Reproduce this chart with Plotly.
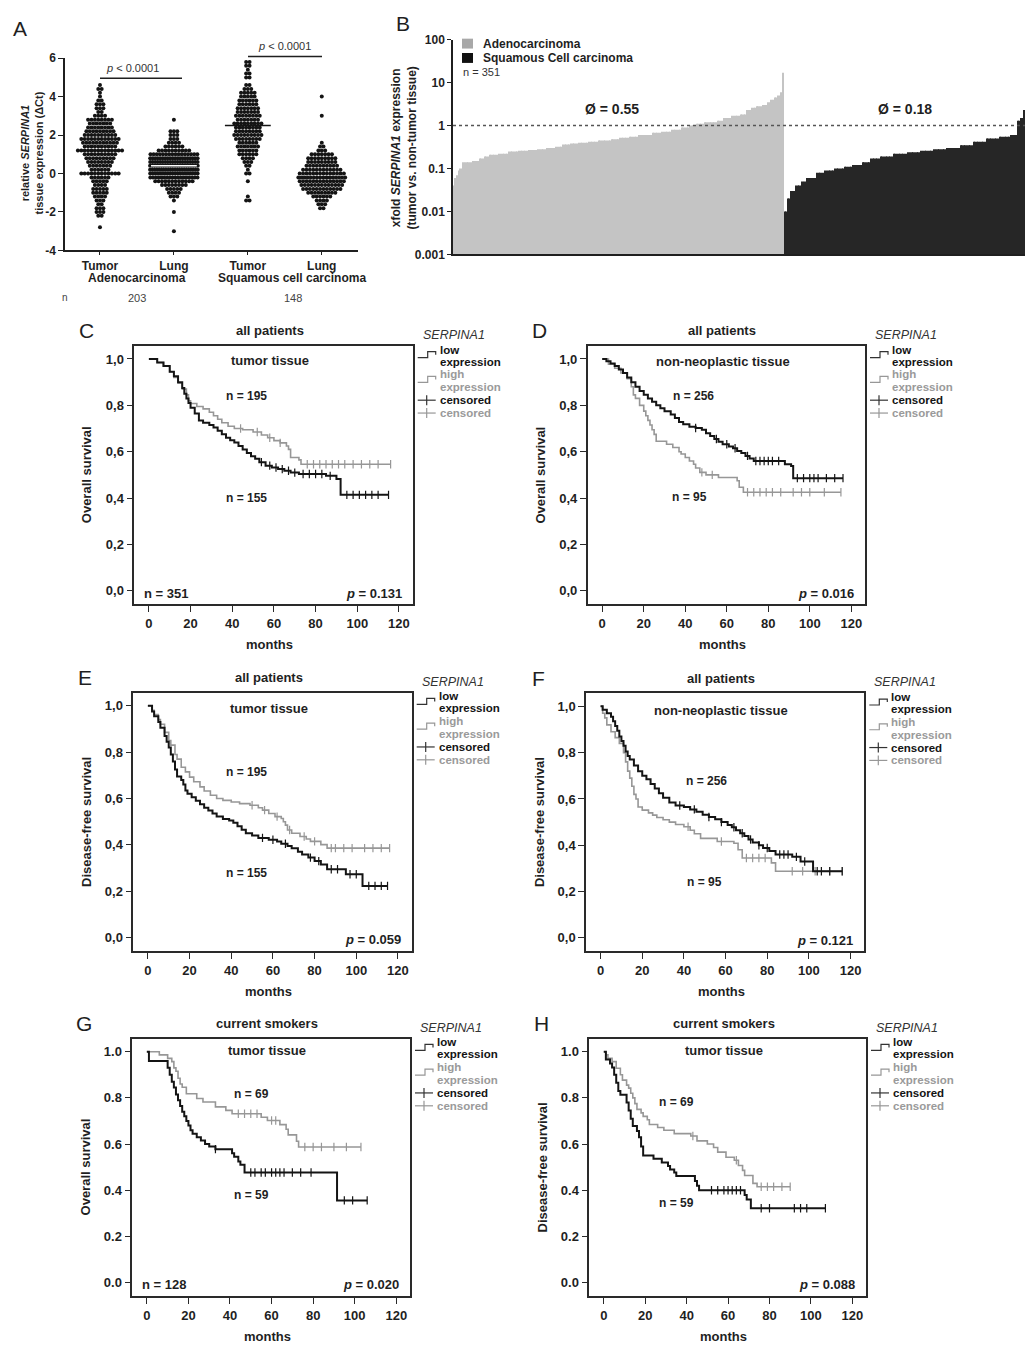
import numpy as np
import plotly.graph_objects as go

W, H = 1030, 1352
FONT = "Liberation Sans"
INK = "#1f1f1f"
BLACK = "#141414"
GRAY = "#979797"
GRAY_TXT = "#9a9a9a"

# ---------------- Panel A : relative SERPINA1 expression (dCt) ----------------
A_CATEGORIES = ["Tumor", "Lung", "Tumor", "Lung"]
A_GROUPS = ["Adenocarcinoma", "Squamous cell carcinoma"]
A_GROUP_N = ["203", "148"]
A_P_TEXT = ["<i>p</i> < 0.0001", "<i>p</i> < 0.0001"]

AD_TUMOR_LEVELS = [-2.8, -2.2, -2.0, -1.8, -1.6, -1.4, -1.2, -1.0, -0.8, -0.6, -0.4, -0.2, 0.0, 0.2, 0.4,
                   0.6, 0.8, 1.0, 1.2, 1.4, 1.6, 1.8, 2.0, 2.2, 2.4, 2.6, 2.8, 3.0, 3.2, 3.4, 3.6, 3.8,
                   4.0, 4.2, 4.4, 4.6]
AD_TUMOR_COUNTS = [1, 2, 3, 3, 2, 3, 4, 5, 5, 4, 5, 6, 12, 6, 7, 8, 9, 10, 14, 10, 11, 12, 10, 9, 8, 7,
                   8, 4, 2, 3, 3, 2, 1, 1, 2, 1]
AD_LUNG_LEVELS = [-3.0, -2.0, -1.4, -1.2, -1.0, -0.8, -0.6, -0.4, -0.2, 0.0, 0.2, 0.4, 0.6, 0.8, 1.0,
                  1.2, 1.4, 1.6, 1.8, 2.0, 2.2, 2.8]
AD_LUNG_COUNTS = [1, 1, 1, 3, 4, 5, 8, 12, 18, 20, 22, 22, 20, 20, 16, 10, 6, 4, 3, 3, 3, 1]
SQ_TUMOR_LEVELS = [-1.4, -1.2, -0.4, 0.0, 0.2, 0.4, 0.6, 0.8, 1.0, 1.2, 1.4, 1.6, 1.8, 2.0, 2.2, 2.4,
                   2.6, 2.8, 3.0, 3.2, 3.4, 3.6, 3.8, 4.0, 4.2, 4.4, 4.6, 5.0, 5.2, 5.4, 5.6, 5.8]
SQ_TUMOR_COUNTS = [2, 1, 1, 2, 1, 2, 3, 4, 6, 6, 7, 6, 8, 9, 8, 8, 9, 7, 8, 7, 7, 6, 6, 5, 5, 3, 2, 2,
                   2, 1, 2, 2]
SQ_LUNG_LEVELS = [-1.8, -1.6, -1.4, -1.2, -1.0, -0.8, -0.6, -0.4, -0.2, 0.0, 0.2, 0.4, 0.6, 0.8, 1.0,
                  1.2, 1.4, 1.6, 3.0, 4.0]
SQ_LUNG_COUNTS = [2, 3, 4, 6, 9, 12, 13, 14, 16, 14, 12, 10, 9, 9, 7, 3, 2, 1, 1, 1]
A_YTICKS = [-4, -2, 0, 2, 4, 6]
A_YTICK_LABELS = ["-4", "-2", "0", "2", "4", "6"]

# ---------------- Panel B : xfold expression (tumor vs non-tumor) ----------------
ADENO_FOLD_VALUES = [0.04, 0.06, 0.07, 0.09, 0.1, 0.14, 0.15, 0.17, 0.19, 0.21, 0.22, 0.25, 0.26, 0.27,
                     0.28, 0.3, 0.32, 0.36, 0.38, 0.4, 0.42, 0.45, 0.48, 0.52, 0.55, 0.6, 0.68, 0.72,
                     0.8, 0.9, 1.0, 1.1, 1.2, 1.3, 1.5, 1.7, 1.8, 2.3, 2.6, 2.8, 3.0, 3.5, 4.0, 4.5,
                     5.0, 6.0, 17.0]
ADENO_FOLD_COUNTS = [1, 1, 1, 1, 2, 6, 4, 3, 3, 6, 6, 6, 6, 6, 5, 6, 4, 5, 5, 6, 6, 8, 5, 6, 6, 8, 6, 6,
                     6, 5, 4, 5, 8, 4, 5, 5, 4, 3, 3, 4, 3, 2, 2, 2, 2, 1, 1]
SQUAM_FOLD_VALUES = [0.01, 0.02, 0.03, 0.04, 0.05, 0.06, 0.08, 0.09, 0.1, 0.11, 0.12, 0.14, 0.17, 0.19,
                     0.22, 0.24, 0.26, 0.28, 0.3, 0.35, 0.42, 0.5, 0.55, 0.6, 1.3, 1.5, 2.3]
SQUAM_FOLD_COUNTS = [2, 2, 3, 4, 3, 6, 5, 6, 6, 5, 6, 5, 6, 8, 9, 8, 8, 8, 8, 8, 8, 8, 7, 4, 2, 2, 1]
B_TICKS = [0.001, 0.01, 0.1, 1, 10, 100]
B_TICK_LABELS = ["0.001", "0.01", "0.1", "1", "10", "100"]
B_MEANS = ["\u00d8 = 0.55", "\u00d8 = 0.18"]

# ---------------- Kaplan-Meier panels C-H ----------------
C_LOW_T = [0, 4, 7, 10, 12, 14, 16, 17, 18, 19, 20, 22, 24, 26, 29, 31, 33, 35, 37, 39, 41, 43, 45, 47,
           49, 51, 53, 56, 59, 62, 65, 68, 72, 85, 90, 92]
C_LOW_S = [1.0, 0.985, 0.97, 0.945, 0.925, 0.9, 0.875, 0.85, 0.83, 0.81, 0.79, 0.765, 0.735, 0.725, 0.715,
           0.705, 0.69, 0.675, 0.66, 0.65, 0.64, 0.625, 0.61, 0.595, 0.58, 0.57, 0.555, 0.54, 0.532, 0.525,
           0.518, 0.51, 0.504, 0.496, 0.482, 0.414]
C_LOW_END = 115
C_LOW_CENS = [54, 58, 61, 64, 67, 70, 74, 77, 80, 83, 87, 95, 98, 101, 104, 107, 110, 115]
C_HIGH_T = [0, 4, 7, 10, 12, 14, 16, 18, 19, 20, 23, 26, 29, 31, 33, 35, 38, 41, 45, 50, 54, 57, 60, 63,
            66, 67, 68, 72, 73]
C_HIGH_S = [1.0, 0.985, 0.97, 0.945, 0.92, 0.895, 0.87, 0.845, 0.82, 0.808, 0.795, 0.785, 0.77, 0.755,
            0.74, 0.725, 0.71, 0.70, 0.695, 0.685, 0.672, 0.66, 0.648, 0.638, 0.625, 0.61, 0.575, 0.565,
            0.546]
C_HIGH_END = 116
C_HIGH_CENS = [44, 52, 58, 63, 76, 79, 82, 85, 88, 91, 94, 98, 102, 106, 110, 116]

D_LOW_T = [0, 2, 4, 6, 8, 10, 12, 14, 16, 18, 20, 22, 24, 26, 28, 30, 33, 35, 37, 39, 42, 45, 48, 50, 52,
           54, 56, 58, 61, 63, 65, 67, 69, 71, 73, 88, 91, 92]
D_LOW_S = [1.0, 0.99, 0.98, 0.97, 0.955, 0.94, 0.92, 0.9, 0.88, 0.862, 0.846, 0.83, 0.815, 0.8, 0.787,
           0.775, 0.76, 0.745, 0.728, 0.718, 0.708, 0.702, 0.695, 0.68, 0.668, 0.655, 0.643, 0.632, 0.622,
           0.615, 0.603, 0.594, 0.582, 0.571, 0.56, 0.546, 0.538, 0.486]
D_LOW_END = 116
D_LOW_CENS = [45, 55, 60, 64, 70, 74, 76, 78, 80, 82, 85, 94, 97, 100, 102, 104, 108, 112, 116]
D_HIGH_T = [0, 3, 6, 9, 12, 14, 15, 16, 18, 20, 21, 22, 23, 24, 25, 26, 31, 34, 37, 38, 40, 42, 44, 45,
            47, 50, 56, 65, 66, 68]
D_HIGH_S = [1.0, 0.978, 0.96, 0.94, 0.915, 0.88, 0.845, 0.83, 0.8, 0.775, 0.755, 0.735, 0.715, 0.695,
            0.675, 0.645, 0.632, 0.618, 0.6, 0.59, 0.575, 0.56, 0.546, 0.53, 0.511, 0.5, 0.489, 0.475,
            0.447, 0.425]
D_HIGH_END = 115
D_HIGH_CENS = [48, 53, 70, 73, 76, 79, 82, 86, 92, 96, 100, 107, 115]

E_LOW_T = [0, 2, 3, 5, 6, 8, 9, 10, 11, 12, 13, 14, 16, 17, 18, 19, 21, 23, 25, 27, 29, 31, 33, 36, 39,
           41, 43, 45, 47, 50, 53, 58, 62, 64, 67, 69, 72, 74, 77, 80, 83, 86, 95, 103]
E_LOW_S = [1.0, 0.975, 0.955, 0.93, 0.905, 0.87, 0.845, 0.82, 0.79, 0.76, 0.725, 0.695, 0.68, 0.66, 0.635,
           0.62, 0.605, 0.59, 0.575, 0.56, 0.548, 0.535, 0.522, 0.512, 0.505, 0.495, 0.48, 0.465, 0.45,
           0.44, 0.43, 0.422, 0.414, 0.405, 0.395, 0.385, 0.37, 0.358, 0.345, 0.33, 0.315, 0.295, 0.273,
           0.223]
E_LOW_END = 115
E_LOW_CENS = [55, 60, 66, 78, 82, 88, 91, 97, 100, 106, 109, 112, 115]
E_HIGH_T = [0, 2, 3, 5, 6, 8, 10, 11, 13, 14, 16, 18, 20, 22, 25, 27, 30, 33, 36, 40, 44, 49, 53, 55, 58,
            61, 64, 65, 66, 67, 69, 73, 76, 78, 83, 86]
E_HIGH_S = [1.0, 0.98, 0.962, 0.94, 0.92, 0.885, 0.85, 0.83, 0.79, 0.77, 0.735, 0.715, 0.692, 0.672,
            0.65, 0.632, 0.614, 0.6, 0.592, 0.585, 0.578, 0.571, 0.56, 0.55, 0.535, 0.522, 0.514, 0.5,
            0.485, 0.464, 0.45, 0.436, 0.425, 0.415, 0.401, 0.386]
E_HIGH_END = 116
E_HIGH_CENS = [50, 56, 62, 68, 75, 80, 88, 90, 94, 98, 104, 108, 112, 116]

F_LOW_T = [0, 1, 3, 5, 6, 7, 8, 9, 10, 11, 12, 13, 14, 16, 18, 20, 22, 24, 26, 28, 30, 33, 36, 40, 43,
           46, 49, 52, 55, 58, 61, 63, 65, 67, 69, 71, 73, 76, 78, 81, 84, 92, 96, 102]
F_LOW_S = [1.0, 0.985, 0.97, 0.955, 0.935, 0.915, 0.895, 0.87, 0.85, 0.83, 0.805, 0.785, 0.77, 0.745,
           0.72, 0.7, 0.685, 0.665, 0.645, 0.625, 0.605, 0.585, 0.572, 0.565, 0.555, 0.545, 0.532, 0.522,
           0.512, 0.5, 0.488, 0.478, 0.465, 0.452, 0.44, 0.425, 0.412, 0.4, 0.388, 0.375, 0.36, 0.35,
           0.33, 0.288]
F_LOW_END = 116
F_LOW_CENS = [38, 45, 52, 58, 64, 68, 72, 76, 80, 86, 88, 90, 94, 98, 104, 106, 110, 116]
F_HIGH_T = [0, 1, 2, 3, 5, 7, 9, 11, 12, 13, 14, 15, 16, 17, 18, 20, 23, 25, 27, 30, 33, 36, 40, 43, 45,
            48, 56, 64, 66, 68, 82, 84]
F_HIGH_S = [1.0, 0.97, 0.95, 0.92, 0.89, 0.865, 0.84, 0.8, 0.76, 0.72, 0.69, 0.655, 0.62, 0.6, 0.565,
            0.552, 0.54, 0.53, 0.52, 0.51, 0.5, 0.49, 0.48, 0.465, 0.45, 0.43, 0.416, 0.409, 0.381, 0.345,
            0.324, 0.288]
F_HIGH_END = 116
F_HIGH_CENS = [42, 58, 70, 73, 76, 79, 92, 97, 103, 110, 116]

G_LOW_T = [0, 1, 10, 11, 12, 13, 14, 15, 16, 17, 18, 19, 20, 21, 22, 24, 26, 28, 30, 33, 41, 42, 44, 45,
           47, 91.5]
G_LOW_S = [1.0, 0.96, 0.93, 0.9, 0.87, 0.845, 0.815, 0.79, 0.765, 0.74, 0.72, 0.7, 0.68, 0.66, 0.645,
           0.63, 0.615, 0.6, 0.59, 0.578, 0.56, 0.545, 0.525, 0.51, 0.477, 0.356]
G_LOW_END = 106
G_LOW_CENS = [33, 50, 52, 55, 57, 60, 62, 64, 66, 70, 74, 79, 95, 99, 106]
G_HIGH_T = [0, 6, 10, 12, 13, 14, 15, 16, 17, 19, 24, 27, 33, 38, 41, 55, 58, 64, 67, 68, 72, 73]
G_HIGH_S = [1.0, 0.986, 0.971, 0.957, 0.93, 0.915, 0.885, 0.86, 0.846, 0.818, 0.797, 0.782, 0.761, 0.746,
            0.731, 0.716, 0.702, 0.684, 0.664, 0.64, 0.612, 0.587]
G_HIGH_END = 103
G_HIGH_CENS = [44, 47, 50, 53, 60, 62, 76, 80, 84, 90, 96, 103]

H_LOW_T = [0, 1, 3, 4, 5, 6, 7, 8, 11, 12, 13, 14, 16, 17, 18, 19, 24, 28, 31, 32, 34, 35, 44, 45, 46, 68,
           69, 71]
H_LOW_S = [1.0, 0.966, 0.949, 0.932, 0.9, 0.865, 0.83, 0.813, 0.78, 0.745, 0.71, 0.678, 0.657, 0.63, 0.59,
           0.55, 0.536, 0.52, 0.505, 0.49, 0.477, 0.462, 0.44, 0.42, 0.4, 0.38, 0.36, 0.322]
H_LOW_END = 107
H_LOW_CENS = [52, 55, 58, 60, 62, 64, 66, 76, 80, 92, 95, 98, 107]
H_HIGH_T = [0, 1, 2, 4, 6, 8, 9, 11, 12, 13, 14, 15, 16, 18, 19, 21, 22, 26, 29, 34, 42, 45, 50, 53, 55,
            59, 63, 65, 67, 68, 72, 74]
H_HIGH_S = [1.0, 0.986, 0.971, 0.957, 0.928, 0.9, 0.877, 0.855, 0.842, 0.82, 0.8, 0.775, 0.75, 0.735, 0.72,
            0.705, 0.685, 0.672, 0.66, 0.645, 0.635, 0.614, 0.6, 0.585, 0.565, 0.543, 0.53, 0.507, 0.486,
            0.464, 0.43, 0.415]
H_HIGH_END = 90
H_HIGH_CENS = [43, 64, 76, 79, 82, 86, 90]

KM_XTICKS = [0, 20, 40, 60, 80, 100, 120]
KM_YTICKS = [0.0, 0.2, 0.4, 0.6, 0.8, 1.0]
KM_YLABELS_COMMA = ["0,0", "0,2", "0,4", "0,6", "0,8", "1,0"]
KM_YLABELS_DOT = ["0.0", "0.2", "0.4", "0.6", "0.8", "1.0"]

KM_PANELS = [
    dict(letter="C", box=(134.3, 412.7, 342.3, 603.3), title="all patients", tissue="tumor tissue",
         tissue_y=0.995, ylabel="Overall survival", labels=KM_YLABELS_COMMA,
         low=(C_LOW_T, C_LOW_S, C_LOW_END, C_LOW_CENS), high=(C_HIGH_T, C_HIGH_S, C_HIGH_END, C_HIGH_CENS),
         n_texts=[("n = 195", 47, 0.84), ("n = 155", 47, 0.40)], n_total="n = 351", p="0.131"),
    dict(letter="D", box=(587.7, 865.0, 342.3, 603.3), title="all patients", tissue="non-neoplastic tissue",
         tissue_y=0.988, ylabel="Overall survival", labels=KM_YLABELS_COMMA,
         low=(D_LOW_T, D_LOW_S, D_LOW_END, D_LOW_CENS), high=(D_HIGH_T, D_HIGH_S, D_HIGH_END, D_HIGH_CENS),
         n_texts=[("n = 256", 44, 0.84), ("n = 95", 42, 0.404)], n_total=None, p="0.016"),
    dict(letter="E", box=(133.3, 411.7, 692.7, 953.7), title="all patients", tissue="tumor tissue",
         tissue_y=0.987, ylabel="Disease-free survival", labels=KM_YLABELS_COMMA,
         low=(E_LOW_T, E_LOW_S, E_LOW_END, E_LOW_CENS), high=(E_HIGH_T, E_HIGH_S, E_HIGH_END, E_HIGH_CENS),
         n_texts=[("n = 195", 47.5, 0.713), ("n = 155", 47.5, 0.28)], n_total=None, p="0.059"),
    dict(letter="F", box=(586.0, 864.3, 693.3, 954.0), title="all patients", tissue="non-neoplastic tissue",
         tissue_y=0.984, ylabel="Disease-free survival", labels=KM_YLABELS_COMMA,
         low=(F_LOW_T, F_LOW_S, F_LOW_END, F_LOW_CENS), high=(F_HIGH_T, F_HIGH_S, F_HIGH_END, F_HIGH_CENS),
         n_texts=[("n = 256", 51, 0.679), ("n = 95", 49.7, 0.243)], n_total=None, p="0.121"),
    dict(letter="G", box=(132.3, 410.0, 1042.3, 1302.3), title="current smokers", tissue="tumor tissue",
         tissue_y=1.003, ylabel="Overall survival", labels=KM_YLABELS_DOT,
         low=(G_LOW_T, G_LOW_S, G_LOW_END, G_LOW_CENS), high=(G_HIGH_T, G_HIGH_S, G_HIGH_END, G_HIGH_CENS),
         n_texts=[("n = 69", 50.5, 0.815), ("n = 59", 50.5, 0.381)], n_total="n = 128", p="0.020"),
    dict(letter="H", box=(589.3, 866.0, 1042.3, 1302.3), title="current smokers", tissue="tumor tissue",
         tissue_y=1.005, ylabel="Disease-free survival", labels=KM_YLABELS_DOT,
         low=(H_LOW_T, H_LOW_S, H_LOW_END, H_LOW_CENS), high=(H_HIGH_T, H_HIGH_S, H_HIGH_END, H_HIGH_CENS),
         n_texts=[("n = 69", 35, 0.78), ("n = 59", 35, 0.346)], n_total=None, p="0.088"),
]
KM_XRANGE = [-7.0, 126.6]
KM_YRANGE = [-0.057, 1.057]


def PX(x):
    return x / W


def PY(y):
    return 1 - y / H


fig = go.Figure()
shapes = []
annotations = []


def pann(x, y, text, size=12, color=INK, xanchor="center", yanchor="middle", angle=0):
    annotations.append(dict(x=PX(x), y=PY(y), xref="paper", yref="paper", text=text, showarrow=False,
                            xanchor=xanchor, yanchor=yanchor, textangle=angle,
                            font=dict(family=FONT, size=size, color=color)))


def dann(x, y, xref, yref, text, size=12, color=INK, xanchor="center", yanchor="middle"):
    annotations.append(dict(x=x, y=y, xref=xref, yref=yref, text=text, showarrow=False,
                            xanchor=xanchor, yanchor=yanchor, font=dict(family=FONT, size=size, color=color)))


def pline(x0, y0, x1, y1, color=INK, width=1.5, dash="solid"):
    shapes.append(dict(type="line", xref="paper", yref="paper", x0=PX(x0), y0=PY(y0), x1=PX(x1), y1=PY(y1),
                       line=dict(color=color, width=width, dash=dash)))


def ppath(points, color, width):
    d = "M " + " L ".join(f"{PX(x):.5f},{PY(y):.5f}" for x, y in points)
    shapes.append(dict(type="path", xref="paper", yref="paper", path=d,
                       line=dict(color=color, width=width)))


tick_font = dict(family=FONT, size=12, color=INK, weight="bold")

# ---------------- Panel A drawing ----------------
A_LEFT, A_RIGHT, A_TOP, A_BOTTOM = 65, 358, 51.7, 246
A_PX_PER_UNIT = 74.0
a_groups = [(1, AD_TUMOR_LEVELS, AD_TUMOR_COUNTS, BLACK),
            (2, AD_LUNG_LEVELS, AD_LUNG_COUNTS, "white"),
            (3, SQ_TUMOR_LEVELS, SQ_TUMOR_COUNTS, BLACK),
            (4, SQ_LUNG_LEVELS, SQ_LUNG_COUNTS, BLACK)]
for xc, levels, counts, mcolor in a_groups:
    xs, ys = [], []
    for lv, n in zip(levels, counts):
        sp = min(3.4, 50.0 / n) / A_PX_PER_UNIT
        for i in range(n):
            xs.append(xc + (i - (n - 1) / 2) * sp)
            ys.append(lv)
    fig.add_trace(go.Scatter(x=xs, y=ys, mode="markers", xaxis="x", yaxis="y", showlegend=False,
                             hoverinfo="skip", marker=dict(size=4, color=BLACK, line=dict(width=0))))
    med = float(np.median(np.repeat(levels, counts)))
    fig.add_trace(go.Scatter(x=[xc - 0.31, xc + 0.31], y=[med, med], mode="lines", xaxis="x", yaxis="y",
                             showlegend=False, hoverinfo="skip", line=dict(color=mcolor, width=1.5)))

pann(20, 22, "A", size=21, color=INK)
pline(100, 72, 182, 72, width=1.6)
pann(132, 62, A_P_TEXT[0], size=11, color="#333")
pline(248, 50, 322, 50, width=1.6)
pann(284, 39, A_P_TEXT[1], size=11, color="#333")
pann(137, 274, f"<b>{A_GROUPS[0]}</b>", size=12)
pann(292, 274, f"<b>{A_GROUPS[1]}</b>", size=12)
pann(65, 294, "n", size=10, color="#444")
pann(137, 294, A_GROUP_N[0], size=11, color="#444")
pann(293, 294, A_GROUP_N[1], size=11, color="#444")
pann(32, 148, "<b>relative <i>SERPINA1</i><br>tissue expression (\u0394Ct)</b>", size=11, angle=-90)

# ---------------- Panel B drawing ----------------
adeno_vals = np.repeat(ADENO_FOLD_VALUES, ADENO_FOLD_COUNTS)
squam_vals = np.repeat(SQUAM_FOLD_VALUES, SQUAM_FOLD_COUNTS)
b_vals = np.concatenate([adeno_vals, squam_vals])
b_pos = np.arange(len(b_vals))
b_colors = ["#c4c4c4"] * len(adeno_vals) + ["#262626"] * len(squam_vals)
fig.add_trace(go.Bar(x=b_pos, y=b_vals, xaxis="x2", yaxis="y2", showlegend=False, hoverinfo="skip",
                     marker=dict(color=b_colors, line=dict(width=0))))
shapes.append(dict(type="line", xref="x2 domain", yref="y2", x0=0, x1=1, y0=1, y1=1,
                   line=dict(color="#555", width=1.6, dash="dot")))
pann(403, 17, "B", size=21, color=INK)
shapes.append(dict(type="rect", xref="paper", yref="paper", x0=PX(462), x1=PX(473), y0=PY(42), y1=PY(32),
                   fillcolor="#a8a8a8", line=dict(width=0)))
shapes.append(dict(type="rect", xref="paper", yref="paper", x0=PX(462), x1=PX(473), y0=PY(56.5), y1=PY(46.5),
                   fillcolor="#111", line=dict(width=0)))
pann(481, 37, "<b>Adenocarcinoma</b>", size=12, xanchor="left")
pann(481, 51.5, "<b>Squamous Cell carcinoma</b>", size=12, xanchor="left")
pann(461, 66, "n = 351", size=11, color="#333", xanchor="left")
pann(612, 103, f"<b>{B_MEANS[0]}</b>", size=14)
pann(905, 103, f"<b>{B_MEANS[1]}</b>", size=14)
pann(404, 143, "<b>xfold <i>SERPINA1</i> expression<br>(tumor vs. non-tumor tissue)</b>", size=12, angle=-90)

# ---------------- Kaplan-Meier drawing ----------------
axis_layout = {}


def step_value(T, S, t):
    idx = 0
    for k, tk in enumerate(T):
        if tk <= t:
            idx = k
    return S[idx]


for k, P in enumerate(KM_PANELS):
    ai = k + 3
    xa, ya = f"x{ai}", f"y{ai}"
    l, r, t, b = P["box"]
    axis_layout[f"xaxis{ai}"] = dict(
        domain=[PX(l), PX(r)], range=KM_XRANGE, anchor=ya, showline=True, mirror=True, linecolor="#2a2a2a",
        linewidth=1.5, ticks="outside", ticklen=6, tickwidth=1.2, tickcolor="#2a2a2a", tickvals=KM_XTICKS,
        tickfont=dict(family=FONT, size=13, color=INK, weight="bold"), ticklabelstandoff=1,
        showgrid=False, zeroline=False, fixedrange=True)
    axis_layout[f"yaxis{ai}"] = dict(
        domain=[PY(b), PY(t)], range=KM_YRANGE, anchor=xa, showline=True, mirror=True, linecolor="#2a2a2a",
        linewidth=1.5, ticks="outside", ticklen=6, tickwidth=1.2, tickcolor="#2a2a2a", tickvals=KM_YTICKS,
        ticktext=P["labels"], tickfont=dict(family=FONT, size=13, color=INK, weight="bold"),
        showgrid=False, zeroline=False, fixedrange=True)
    for key, color, width in (("high", GRAY, 1.6), ("low", BLACK, 2.0)):
        T, S, END, CENS = P[key]
        fig.add_trace(go.Scatter(x=list(T) + [END], y=list(S) + [S[-1]], mode="lines", line_shape="hv",
                                 xaxis=xa, yaxis=ya, showlegend=False, hoverinfo="skip",
                                 line=dict(color=color, width=width)))
        fig.add_trace(go.Scatter(x=CENS, y=[step_value(T, S, c) for c in CENS], mode="markers",
                                 xaxis=xa, yaxis=ya, showlegend=False, hoverinfo="skip",
                                 marker=dict(symbol="line-ns", size=6, line=dict(color=color, width=1.2))))
    cx = (l + r) / 2 - 4
    pann(l - 48, t - 15, P["letter"], size=21, color=INK)
    pann(cx, t - 15, f"<b>{P['title']}</b>", size=13)
    pann(cx, b + 41, "<b>months</b>", size=13)
    pann(l - 47, (t + b) / 2, f"<b>{P['ylabel']}</b>", size=13, angle=-90)
    dann(58, P["tissue_y"], xa, ya, f"<b>{P['tissue']}</b>", size=13)
    for txt, xv, yv in P["n_texts"]:
        dann(xv, yv, xa, ya, f"<b>{txt}</b>", size=12)
    if P["n_total"]:
        pann(l + 8, b - 11, f"<b>{P['n_total']}</b>", size=13, xanchor="left")
    pann(r - 9, b - 11, f"<b><i>p</i> = {P['p']}</b>", size=13, xanchor="right")
    # legend (drawn by hand: step glyphs and censor crosses)
    gx0, gx1, tx = r + 5, r + 23, r + 25
    lf = 11.5
    pann(r + 8, t - 11, "<i>SERPINA1</i>", size=12.5, color="#333", xanchor="left")
    pann(tx, t + 4, "<b>low</b>", size=lf, color=BLACK, xanchor="left")
    pann(tx, t + 16, "<b>expression</b>", size=lf, color=BLACK, xanchor="left")
    ppath([(gx0, t + 12), (gx0 + 10, t + 12), (gx0 + 10, t + 6), (gx1, t + 6), (gx1, t + 9)], "#333", 1.2)
    pann(tx, t + 29, "<b>high</b>", size=lf, color=GRAY_TXT, xanchor="left")
    pann(tx, t + 42, "<b>expression</b>", size=lf, color=GRAY_TXT, xanchor="left")
    ppath([(gx0, t + 37), (gx0 + 10, t + 37), (gx0 + 10, t + 31), (gx1, t + 31), (gx1, t + 34)], GRAY, 1.2)
    pann(tx, t + 55, "<b>censored</b>", size=lf, color=BLACK, xanchor="left")
    pline(gx0, t + 55, gx1, t + 55, color="#333", width=1.2)
    pline(gx0 + 9, t + 50, gx0 + 9, t + 60, color="#333", width=1.2)
    pann(tx, t + 68, "<b>censored</b>", size=lf, color=GRAY_TXT, xanchor="left")
    pline(gx0, t + 68, gx1, t + 68, color=GRAY, width=1.2)
    pline(gx0 + 9, t + 63, gx0 + 9, t + 73, color=GRAY, width=1.2)

fig.update_layout(
    width=W, height=H, margin=dict(l=0, r=0, t=0, b=0), paper_bgcolor="white", plot_bgcolor="white",
    showlegend=False, bargap=0.25, font=dict(family=FONT, color=INK),
    xaxis=dict(domain=[PX(A_LEFT), PX(A_RIGHT)], range=[0.527, 4.49], anchor="y", showline=True,
               linecolor=INK, linewidth=1.5, ticks="outside", ticklen=3, tickcolor=INK, tickvals=[1, 2, 3, 4],
               ticktext=A_CATEGORIES, tickfont=tick_font, showgrid=False, zeroline=False, fixedrange=True),
    yaxis=dict(domain=[PY(A_BOTTOM), PY(A_TOP)], range=[-4, 6], anchor="x", showline=True, linecolor=INK,
               linewidth=1.5, ticks="outside", ticklen=5, tickcolor=INK, tickvals=A_YTICKS,
               ticktext=A_YTICK_LABELS, tickfont=tick_font, showgrid=False, zeroline=False, fixedrange=True),
    xaxis2=dict(domain=[PX(453), PX(1025)], range=[-0.5, len(b_vals) - 0.5], anchor="y2", showline=True,
                linecolor=INK, linewidth=1.5, showticklabels=False, ticks="", showgrid=False, zeroline=False,
                fixedrange=True),
    yaxis2=dict(domain=[PY(250), PY(33)], type="log", range=[-3, 2], anchor="x2", showline=True,
                linecolor=INK, linewidth=1.5, ticks="outside", ticklen=4, tickcolor=INK, tickvals=B_TICKS,
                ticktext=B_TICK_LABELS, tickfont=tick_font, showgrid=False, zeroline=False, fixedrange=True),
    shapes=shapes, annotations=annotations,
    **axis_layout,
)

# pin the figure to the page corner so the page is exactly the figure's size
PIN_PAGE = ("document.documentElement.style.margin='0';document.body.style.margin='0';"
            "document.body.style.overflow='hidden';"
            "var gd=document.getElementById('{plot_id}');gd.style.position='absolute';"
            "gd.style.left='0px';gd.style.top='0px';")
fig.write_html("out.html", post_script=PIN_PAGE, config={"displayModeBar": False})
